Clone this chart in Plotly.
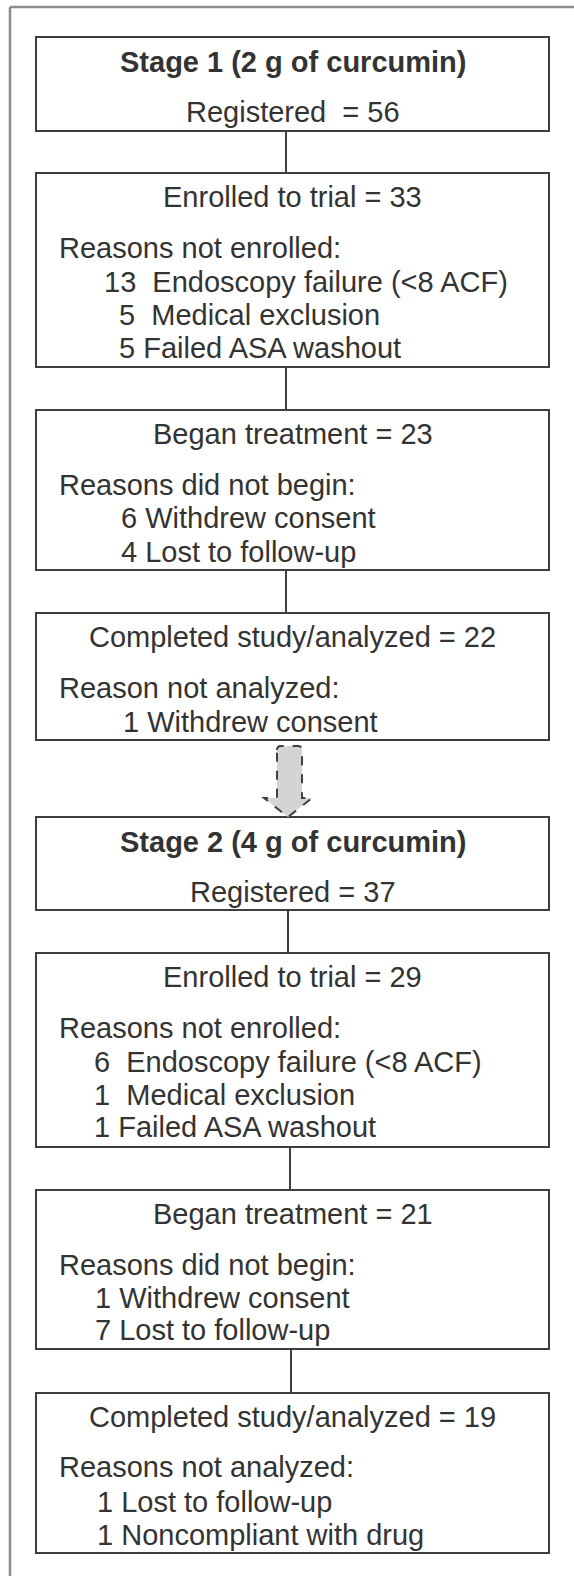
import plotly.graph_objects as go

# ---------------- data (text content) ----------------
stage_titles = ["Stage 1 (2 g of curcumin)", "Stage 2 (4 g of curcumin)"]
registered_lines = ["Registered\u00a0 = 56", "Registered = 37"]

box_headers = [
    "Enrolled to trial = 33",
    "Began treatment = 23",
    "Completed study/analyzed = 22",
    "Enrolled to trial = 29",
    "Began treatment = 21",
    "Completed study/analyzed = 19",
]
box_subheads = [
    "Reasons not enrolled:",
    "Reasons did not begin:",
    "Reason not analyzed:",
    "Reasons not enrolled:",
    "Reasons did not begin:",
    "Reasons not analyzed:",
]
box_items = [
    ["13\u00a0 Endoscopy failure (&lt;8 ACF)", "5\u00a0 Medical exclusion", "5 Failed ASA washout"],
    ["6 Withdrew consent", "4 Lost to follow-up"],
    ["1 Withdrew consent"],
    ["6\u00a0 Endoscopy failure (&lt;8 ACF)", "1\u00a0 Medical exclusion", "1 Failed ASA washout"],
    ["1 Withdrew consent", "7 Lost to follow-up"],
    ["1 Lost to follow-up", "1 Noncompliant with drug"],
]

# ---------------- layout geometry ----------------
W, H = 574, 1576
BX0, BX1 = 36, 549
CX = (BX0 + BX1) / 2

stage_boxes = [(37, 131), (817, 910)]
stage_title_y = [62, 842]
stage_reg_y = [112, 892]

detail_boxes = [(173, 367), (410, 570), (613, 740), (953, 1147), (1190, 1349), (1393, 1553)]
header_y = [197, 434, 637, 977, 1214, 1417]
subhead_y = [248, 485, 688, 1028, 1265, 1467]
items_y = [[282, 315, 348], [518, 552], [722], [1062, 1095, 1127], [1298, 1330], [1502, 1535]]
items_x = [[102, 117, 117], [119, 119], [121], [92, 92, 92], [93, 93], [95, 95]]
subhead_x = 57

connectors = [(286, 131, 173), (286, 367, 410), (286, 570, 613),
              (288, 910, 953), (290, 1147, 1190), (291, 1349, 1393)]

TXT = "#333333"
LINE = "#3e3e3e"
FONT = "Liberation Sans, Arial, Helvetica, sans-serif"
FS = 29

fig = go.Figure()
shapes = []
annotations = []

# outer frame (top and left edges)
shapes.append(dict(type="line", x0=10, x1=W, y0=7, y1=7, line=dict(color="#8c8c8c", width=2.5)))
shapes.append(dict(type="line", x0=10, x1=10, y0=7, y1=H, line=dict(color="#8c8c8c", width=2.5)))

for (y0, y1) in stage_boxes + detail_boxes:
    shapes.append(dict(type="rect", x0=BX0, x1=BX1, y0=y0, y1=y1,
                       line=dict(color=LINE, width=2), fillcolor="white"))

for (x, y0, y1) in connectors:
    shapes.append(dict(type="line", x0=x, x1=x, y0=y0, y1=y1, line=dict(color=LINE, width=2)))

# dashed block arrow between stages
ax0, ax1 = 277, 302
hx0, hx1 = 264, 312
ay_top, ay_head, ay_tip = 746, 798, 817
tip_x = (hx0 + hx1) / 2
path = (f"M {ax0},{ay_top+4} Q {ax0},{ay_top} {ax0+4},{ay_top} L {ax1-4},{ay_top} "
        f"Q {ax1},{ay_top} {ax1},{ay_top+4} L {ax1},{ay_head} L {hx1},{ay_head} "
        f"L {tip_x},{ay_tip} L {hx0},{ay_head} L {ax0},{ay_head} Z")
shapes.append(dict(type="path", path=path, fillcolor="#d4d4d4",
                   line=dict(color="#404040", width=2, dash="dash")))

def add_text(x, y, text, anchor="center", bold=False):
    annotations.append(dict(
        x=x, y=y, xref="x", yref="y", text=f"<b>{text}</b>" if bold else text,
        showarrow=False, xanchor=anchor, yanchor="middle",
        font=dict(family=FONT, size=FS, color=TXT)))

for i in range(2):
    add_text(CX, stage_title_y[i], stage_titles[i], bold=True)
    add_text(CX, stage_reg_y[i], registered_lines[i])

for i in range(len(detail_boxes)):
    add_text(CX, header_y[i], box_headers[i])
    add_text(subhead_x, subhead_y[i], box_subheads[i], anchor="left")
    for t, y, x in zip(box_items[i], items_y[i], items_x[i]):
        add_text(x, y, t, anchor="left")

fig.update_layout(
    width=W, height=H, margin=dict(l=0, r=0, t=0, b=0),
    paper_bgcolor="white", plot_bgcolor="white",
    xaxis=dict(range=[0, W], visible=False, fixedrange=True),
    yaxis=dict(range=[H, 0], visible=False, fixedrange=True),
    shapes=shapes, annotations=annotations, showlegend=False,
)

fig.write_html("out.html", config={"displayModeBar": False},
               post_script="document.body.style.margin='0';")
